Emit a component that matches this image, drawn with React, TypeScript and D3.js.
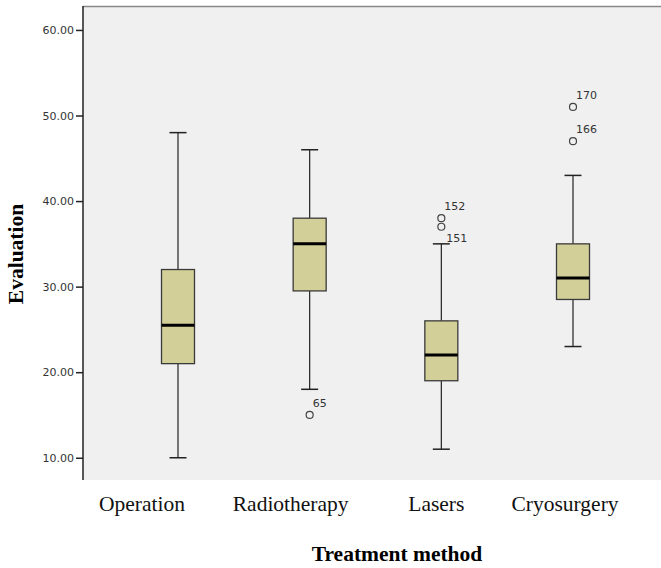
import React, { useEffect, useRef } from 'react';
import * as d3 from 'd3';

// Box plot of evaluation per treatment method
const categories = ["Operation", "Radiotherapy", "Lasers", "Cryosurgery"];
const lowerWhisker = [10, 18, 11, 23];
const q1 = [21, 29.5, 19, 28.5];
const median = [25.5, 35, 22, 31];
const q3 = [32, 38, 26, 35];
const upperWhisker = [48, 46, 35, 43];

// outliers: category index, value, case label
const outlierCat = [1, 2, 2, 3, 3];
const outlierVal = [15, 38, 37, 51, 47];
const outlierLabel = ["65", "152", "151", "170", "166"];

const yTicks = [10, 20, 30, 40, 50, 60];

const WIDTH = 661;
const HEIGHT = 568;
const PLOT_LEFT = 83;
const PLOT_TOP = 6;
const PLOT_BOTTOM = 480;
const BOX_W = 33;
const CAP_W = 17;
// category labels in the source sit left of their boxes
const LABEL_SHIFT = [-36, -19, -5, -8];

// label sits under the point for 151 (SPSS moved it to avoid overlap)
const labelBelow: { [k: string]: boolean } = { "151": true };

export default function App() {
  const ref = useRef<SVGSVGElement>(null);

  useEffect(() => {
    const svg = d3.select(ref.current);
    svg.selectAll("*").remove();

    const yScale = d3.scaleLinear().domain([7.4, 62.8]).range([PLOT_BOTTOM, PLOT_TOP]);
    const xScale = d3.scalePoint<string>().domain(categories).range([178, 573]);

    // plot background
    svg.append("rect")
      .attr("x", PLOT_LEFT).attr("y", PLOT_TOP)
      .attr("width", WIDTH - PLOT_LEFT).attr("height", PLOT_BOTTOM - PLOT_TOP)
      .attr("fill", "#f0f0f0");
    svg.append("line")
      .attr("x1", PLOT_LEFT).attr("x2", WIDTH)
      .attr("y1", PLOT_TOP + 0.5).attr("y2", PLOT_TOP + 0.5)
      .attr("stroke", "#888").attr("stroke-width", 1.5);

    // y axis
    const yAxis = d3.axisLeft(yScale).tickValues(yTicks).tickSize(7).tickPadding(2)
      .tickFormat((d) => d3.format(".2f")(d as number));
    const gy = svg.append("g").attr("transform", `translate(${PLOT_LEFT},0)`).call(yAxis);
    gy.select(".domain").remove();
    gy.selectAll(".tick line").attr("stroke", "#222").attr("stroke-width", 1.5);
    gy.selectAll(".tick text")
      .attr("fill", "#333")
      .style("font-family", "DejaVu Sans")
      .style("font-size", "11px");
    svg.append("line")
      .attr("x1", PLOT_LEFT).attr("x2", PLOT_LEFT)
      .attr("y1", PLOT_TOP).attr("y2", PLOT_BOTTOM)
      .attr("stroke", "#222").attr("stroke-width", 1.5);

    const boxes = svg.append("g");
    categories.forEach((c, i) => {
      const cx = xScale(c) as number;
      const g = boxes.append("g");
      // whisker stems
      g.append("line").attr("x1", cx).attr("x2", cx)
        .attr("y1", yScale(upperWhisker[i])).attr("y2", yScale(q3[i]))
        .attr("stroke", "#222").attr("stroke-width", 1.2);
      g.append("line").attr("x1", cx).attr("x2", cx)
        .attr("y1", yScale(q1[i])).attr("y2", yScale(lowerWhisker[i]))
        .attr("stroke", "#222").attr("stroke-width", 1.2);
      // caps
      [upperWhisker[i], lowerWhisker[i]].forEach((v) => {
        g.append("line").attr("x1", cx - CAP_W / 2).attr("x2", cx + CAP_W / 2)
          .attr("y1", yScale(v)).attr("y2", yScale(v))
          .attr("stroke", "#222").attr("stroke-width", 1.5);
      });
      // box
      g.append("rect")
        .attr("x", cx - BOX_W / 2).attr("width", BOX_W)
        .attr("y", yScale(q3[i])).attr("height", yScale(q1[i]) - yScale(q3[i]))
        .attr("fill", "#d3cf98").attr("stroke", "#3a3a3a").attr("stroke-width", 1.3);
      g.append("line").attr("x1", cx - BOX_W / 2).attr("x2", cx + BOX_W / 2)
        .attr("y1", yScale(median[i])).attr("y2", yScale(median[i]))
        .attr("stroke", "#000").attr("stroke-width", 3);
    });

    // outliers
    outlierVal.forEach((v, i) => {
      const cx = xScale(categories[outlierCat[i]]) as number;
      const cy = yScale(v);
      svg.append("circle").attr("cx", cx).attr("cy", cy).attr("r", 3.5)
        .attr("fill", "none").attr("stroke", "#444").attr("stroke-width", 1.2);
      const below = labelBelow[outlierLabel[i]];
      svg.append("text")
        .attr("x", cx + (below ? 5 : 3))
        .attr("y", cy + (below ? 15 : -8))
        .attr("fill", "#333")
        .style("font-family", "DejaVu Sans")
        .style("font-size", "11px")
        .text(outlierLabel[i]);
    });

    // category labels
    categories.forEach((c, i) => {
      svg.append("text")
        .attr("x", (xScale(c) as number) + LABEL_SHIFT[i]).attr("y", 511)
        .attr("text-anchor", "middle")
        .style("font-family", "Liberation Serif")
        .style("font-size", "21.5px")
        .attr("fill", "#111")
        .text(c);
    });

    // axis titles
    svg.append("text")
      .attr("x", 397).attr("y", 561)
      .attr("text-anchor", "middle")
      .style("font-family", "Liberation Serif")
      .style("font-size", "21.5px")
      .style("font-weight", "bold")
      .text("Treatment method");
    svg.append("text")
      .attr("transform", "translate(23,254) rotate(-90)")
      .attr("text-anchor", "middle")
      .style("font-family", "Liberation Serif")
      .style("font-size", "21.5px")
      .style("font-weight", "bold")
      .text("Evaluation");
  }, []);

  return (
    <svg ref={ref} width={WIDTH} height={HEIGHT}
      style={{ position: "absolute", left: 0, top: 0, background: "#fff" }} />
  );
}
